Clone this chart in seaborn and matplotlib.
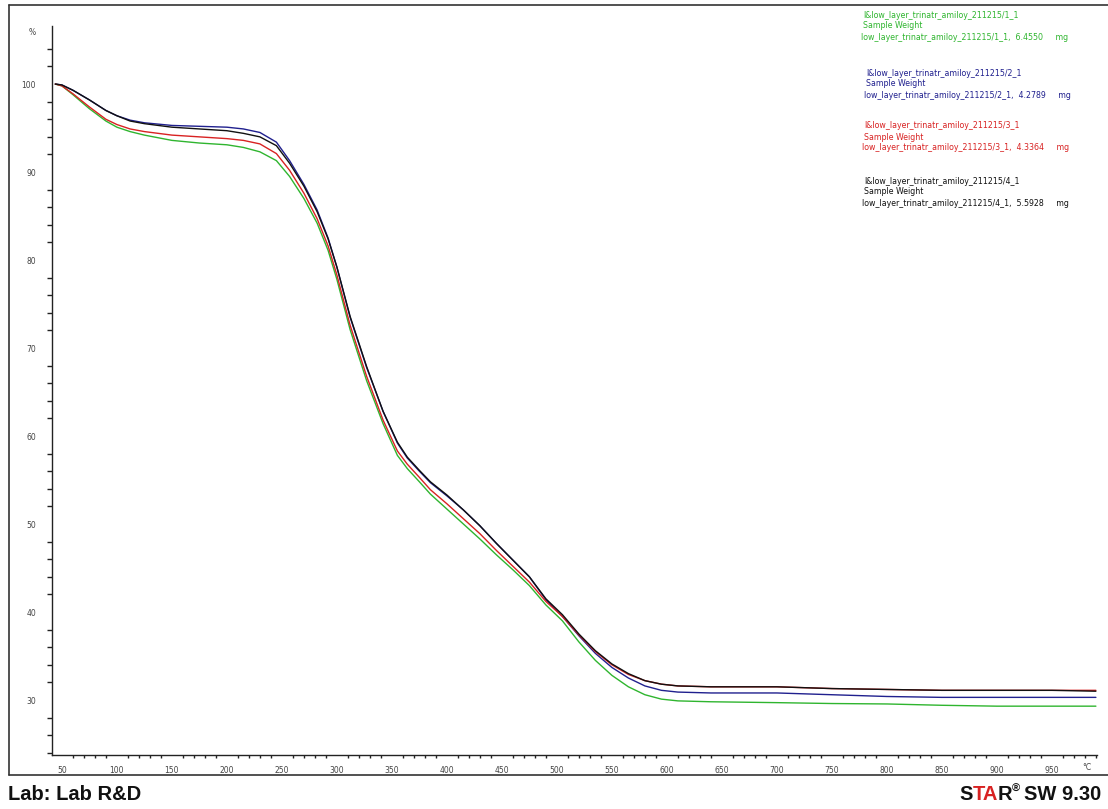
import matplotlib
matplotlib.use('Agg')
import matplotlib.pyplot as plt
import seaborn as sns
import numpy as np
from matplotlib.lines import Line2D

# temperature in deg C
temps = [44, 50, 60, 75, 90, 100, 112, 125, 150, 175, 200, 215, 230, 245, 257, 270, 282, 292,
         300, 312, 327, 342, 355, 364, 375, 385, 400, 415, 430, 445, 460, 475, 490, 505, 520,
         535, 550, 565, 580, 595, 610, 640, 700, 750, 800, 850, 900, 950, 990]

# weight in % for the four samples
w_green = [100, 99.8, 98.8, 97.2, 95.8, 95.1, 94.6, 94.2, 93.6, 93.3, 93.1, 92.8, 92.3, 91.3, 89.5,
           87.0, 84.2, 81.1, 77.8, 72.1, 66.3, 61.4, 57.8, 56.3, 54.8, 53.4, 51.7, 50.0, 48.3, 46.5,
           44.8, 43.0, 40.8, 39.0, 36.6, 34.5, 32.8, 31.5, 30.6, 30.1, 29.9, 29.8, 29.7, 29.6, 29.55,
           29.4, 29.3, 29.3, 29.3]
w_blue = [100, 99.9, 99.3, 98.2, 97.0, 96.4, 95.9, 95.6, 95.3, 95.2, 95.1, 94.9, 94.5, 93.4, 91.3,
          88.6, 85.7, 82.5, 79.2, 73.5, 67.8, 62.8, 59.2, 57.5, 56.0, 54.7, 53.2, 51.6, 49.8, 47.8,
          45.9, 44.0, 41.4, 39.5, 37.3, 35.3, 33.7, 32.5, 31.6, 31.1, 30.9, 30.8, 30.8, 30.6, 30.4,
          30.3, 30.3, 30.3, 30.3]
w_red = [100, 99.8, 98.9, 97.4, 96.0, 95.4, 94.9, 94.6, 94.2, 94.0, 93.8, 93.6, 93.2, 92.1, 90.2,
         87.6, 84.7, 81.6, 78.3, 72.6, 66.8, 61.8, 58.3, 56.8, 55.3, 53.9, 52.3, 50.6, 48.9, 47.0,
         45.2, 43.4, 41.2, 39.5, 37.4, 35.5, 34.0, 32.9, 32.2, 31.8, 31.6, 31.5, 31.5, 31.3, 31.2,
         31.1, 31.1, 31.1, 31.1]
w_black = [100, 99.9, 99.3, 98.2, 97.0, 96.4, 95.8, 95.5, 95.1, 94.9, 94.7, 94.4, 94.0, 93.0, 91.0,
           88.4, 85.5, 82.4, 79.2, 73.6, 67.9, 62.8, 59.3, 57.6, 56.1, 54.8, 53.3, 51.6, 49.8, 47.8,
           45.9, 44.0, 41.5, 39.7, 37.5, 35.6, 34.1, 33.0, 32.2, 31.8, 31.6, 31.5, 31.5, 31.3, 31.2,
           31.1, 31.1, 31.1, 31.0]

sample_ids = ['1_1', '2_1', '3_1', '4_1']
sample_mg = ['6.4550', '4.2789', '4.3364', '5.5928']
y_ticks = [30, 40, 50, 60, 70, 80, 90, 100, 106]
y_labels = ['30', '40', '50', '60', '70', '80', '90', '100', '%']
x_ticks = list(range(50, 1000, 50))

c_green = '#2fb52f'
c_blue = '#20208e'
c_red = '#d82222'
c_black = '#111111'

W, H = 1108, 809

def px(x, y):
	return x / W, 1 - y / H

sns.set_style('white')
plt.rcParams['font.family'] = ['DejaVu Sans']

fig = plt.figure(figsize=(W / 100, H / 100), dpi=100)
ax = fig.add_axes([52 / W, 1 - 755 / H, (1097 - 52) / W, (755 - 26) / H])

series = [(w_green, c_green), (w_blue, c_blue), (w_red, c_red), (w_black, c_black)]
for vals, col in series:
	sns.lineplot(x=temps, y=vals, color=col, linewidth=1.0, ax=ax)

ax.set_xlim(41, 991)
ax.set_ylim(23.75, 106.6)

for s in ['top', 'right']:
	ax.spines[s].set_visible(False)
for s in ['left', 'bottom']:
	ax.spines[s].set_color('#222222')
	ax.spines[s].set_linewidth(1.0)

ax.set_yticks(y_ticks)
ax.set_yticklabels(y_labels)
ax.set_yticks(np.arange(24, 106, 2), minor=True)
ax.set_xticks(x_ticks)
ax.set_xticklabels([str(t) for t in x_ticks])
ax.set_xticks(np.arange(50, 1000, 10), minor=True)
ax.tick_params(axis='both', which='both', direction='out', color='#222222',
               labelsize=5.5, labelcolor='#444444', width=1.0)
ax.tick_params(axis='y', which='major', length=3.5, pad=8)
ax.tick_params(axis='y', which='minor', length=3.5, left=True)
ax.tick_params(axis='x', which='major', length=4, pad=4)
ax.tick_params(axis='x', which='minor', length=2.5, bottom=True)
ax.set_xlabel('')
ax.set_ylabel('')
ax.text(*px(1087, 767), '°C', transform=fig.transFigure, fontsize=5.5, color='#444444',
        ha='center', va='center')

# frame round the plot
fig.add_artist(Line2D([9 / W, 1], [1 - 5 / H, 1 - 5 / H], color='#333333', lw=1.2))
fig.add_artist(Line2D([9 / W, 1], [1 - 775 / H, 1 - 775 / H], color='#333333', lw=1.2))
fig.add_artist(Line2D([9 / W, 9 / W], [1 - 5 / H, 1 - 775 / H], color='#333333', lw=1.2))

# sample legend at top right
block_y = [15, 73, 126, 181]
block_x = [863, 866, 864, 864]
for i, col in enumerate([c_green, c_blue, c_red, c_black]):
	lines = ['I&low_layer_trinatr_amiloy_211215/' + sample_ids[i],
	         'Sample Weight',
	         'low_layer_trinatr_amiloy_211215/' + sample_ids[i] + ',  ' + sample_mg[i] + '     mg']
	for j, txt in enumerate(lines):
		xx = block_x[i] if j < 2 else block_x[i] - 2
		fig.text(*px(xx, block_y[i] + 11 * j), txt, fontsize=5.7, color=col,
		         ha='left', va='center')

fig.text(*px(8, 800), 'Lab: Lab R&D', fontsize=14.5, fontweight='bold',
         family='Liberation Sans', color='#111111', ha='left', va='baseline')

# STAR SW 9.30 built from pieces, right to left
r = fig.canvas.get_renderer()
pieces = [('SW 9.30', '#111111', 14.5, 0), ('® ', '#111111', 8, 8), ('R', '#111111', 14.5, 0),
          ('TA', c_red, 14.5, 0), ('S', '#111111', 14.5, 0)]
xr = 1101
for txt, col, fs, up in pieces:
	t = fig.text(*px(xr, 800 - up), txt, fontsize=fs, fontweight='bold', family='Liberation Sans',
	             color=col, ha='right', va='baseline')
	bb = t.get_window_extent(r)
	xr = xr - bb.width

fig.savefig('out.png', dpi=100)
